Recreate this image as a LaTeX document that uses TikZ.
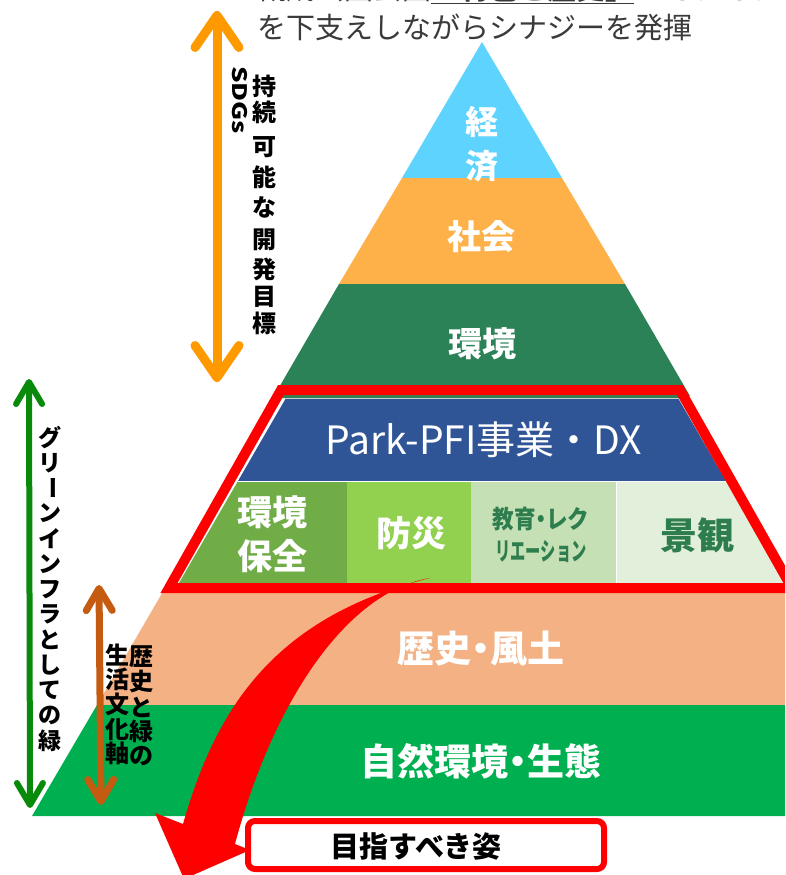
\documentclass[tikz,border=0pt]{standalone}
\usepackage{fontspec}
\usepackage{graphicx}
\usetikzlibrary{arrows.meta}
\setmainfont{Noto Sans CJK JP}
\newfontfamily\jp{Noto Sans CJK JP}
\newcommand{\hdot}{\makebox[0.5em]{・}}
\definecolor{keizai}{HTML}{5DD3FE}
\definecolor{shakai}{HTML}{FEB049}
\definecolor{kankyo}{HTML}{2C8257}
\definecolor{pfiblue}{HTML}{2F5597}
\definecolor{cellA}{HTML}{70AD47}
\definecolor{cellB}{HTML}{92D050}
\definecolor{cellC}{HTML}{C5E0B4}
\definecolor{cellD}{HTML}{E2EFDA}
\definecolor{celltext}{HTML}{2E7D4E}
\definecolor{rekishi}{HTML}{F4B183}
\definecolor{shizen}{HTML}{00B050}
\definecolor{arrOrange}{HTML}{FF9900}
\definecolor{arrGreen}{HTML}{0A8A0A}
\definecolor{arrBrown}{HTML}{C55A11}
\definecolor{toptext}{HTML}{3A3A3A}
\begin{document}
\begin{tikzpicture}[x=1pt,y=-1pt,
  wlbl/.style={text=white,inner sep=0pt,font={\jp\bfseries\fontsize{34}{34}\selectfont}},
  glbl/.style={text=celltext,inner sep=0pt,font={\jp\bfseries\fontsize{36}{36}\selectfont}},
  vchar/.style={text=black,inner sep=0pt,font={\jp\bfseries\fontsize{23}{23}\selectfont}},
  toptxt/.style={anchor=west,inner sep=0pt,text=toptext,font={\jp\fontsize{29}{29}\selectfont}},
  orangearr/.style={draw=arrOrange,line width=9pt,line cap=round,{Straight Barb[length=32pt,width=44pt,round]}-{Straight Barb[length=32pt,width=44pt,round]}},
  greenarr/.style={draw=arrGreen,line width=6pt,line cap=round,{Straight Barb[length=22pt,width=26pt,round]}-{Straight Barb[length=22pt,width=26pt,round]}},
  brownarr/.style={draw=arrBrown,line width=7pt,line cap=round,{Straight Barb[length=22pt,width=26pt,round]}-{Straight Barb[length=22pt,width=26pt,round]}},
  sepline/.style={draw=white,line width=0.9pt}
]
\useasboundingbox (0,0) rectangle (785,875);
\clip (0,0) rectangle (785,875);
\fill[white] (0,0) rectangle (785,875);

% top text (first line cut off by the page edge)
\node[toptxt] (top1) at (257,-11) {概成公園会園\textbf{\underline{「特色と歴史」}}がそれぞれ};
\node[toptxt] (top2) at (257,27) {を下支えしながらシナジーを発揮};

% upper pyramid
\fill[keizai] (482,42) -- (562,178) -- (402,178) -- cycle;
\fill[shakai] (402,178) -- (562,178) -- (625,284) -- (339,284) -- cycle;
\fill[kankyo] (339,284) -- (625,284) -- (690,396) -- (274,396) -- cycle;

% lower bands
\fill[rekishi] (168,583) -- (97,705) -- (800,705) -- (800,583) -- cycle;
\fill[shizen] (97,705) -- (32,816) -- (800,816) -- (800,705) -- cycle;

% red framed part
\fill[white] (281,390) -- (680,390) -- (792,588) -- (169,588) -- cycle;
\fill[kankyo] (283,393) -- (681,393) -- (684,398) -- (280,398) -- cycle;
\fill[pfiblue] (286,398) -- (678,398) -- (726,481) -- (238,481) -- cycle;
\draw[line width=0.8pt,color=gray!40!white] (286,398.6) -- (678,398.6);
\fill[cellA] (238,481) -- (347,481) -- (347,583) -- (179,583) -- cycle;
\fill[cellB] (347,481) -- (471,481) -- (471,583) -- (347,583) -- cycle;
\fill[cellC] (471,481) -- (616,481) -- (616,583) -- (471,583) -- cycle;
\fill[cellD] (616,481) -- (726,481) -- (785,583) -- (616,583) -- cycle;
\draw[sepline] (238,481) -- (726,481);
\draw[sepline] (616,481) -- (616,583);
\draw[red,line width=10pt,line join=miter] (281,390) -- (680,390) -- (792,588) -- (169,588) -- cycle;

% pyramid labels
\node[wlbl,font={\jp\bfseries\fontsize{33}{33}\selectfont}] (kei) at (482,122) {経};
\node[wlbl,font={\jp\bfseries\fontsize{33}{33}\selectfont}] (zai) at (482,166) {済};
\node[wlbl] (sha) at (481,237) {社会};
\node[wlbl] (kan) at (482,344) {環境};
\node[text=white,inner sep=0pt,font={\jp\fontsize{39}{39}\selectfont}] (pfi) at (484,440) {Park-PFI事業・DX};
\node[wlbl,font={\jp\bfseries\fontsize{35}{35}\selectfont}] (kh1) at (272,512) {環境};
\node[wlbl,font={\jp\bfseries\fontsize{35}{35}\selectfont}] (kh2) at (272,556) {保全};
\node[wlbl,font={\jp\bfseries\fontsize{35}{35}\selectfont}] (bou) at (411,533) {防災};
\node[text=celltext,inner sep=0pt,font={\jp\bfseries\fontsize{25}{25}\selectfont}] (kyo1) at (541,519) {\scalebox{0.86}[1]{教育\hdot レク}};
\node[text=celltext,inner sep=0pt,font={\jp\bfseries\fontsize{25}{25}\selectfont}] (kyo2) at (541,551) {\scalebox{0.61}[1]{リエーション}};
\node[glbl,font={\jp\bfseries\fontsize{37}{37}\selectfont}] (kei2) at (697,535) {景観};
\node[wlbl,font={\jp\bfseries\fontsize{37}{37}\selectfont}] (reki) at (481,649) {歴史\hdot 風土};
\node[wlbl,font={\jp\bfseries\fontsize{37}{37}\selectfont}] (shi) at (481,761) {自然環境\hdot 生態};

% vertical texts
\foreach \ch/\yy [count=\i] in {持/86,続/112,可/147,能/177,な/207,開/240,発/269,目/297,標/323}
  \node[vchar,font={\jp\bfseries\fontsize{24}{24}\selectfont}] (sd\i) at (264,\yy) {\ch};
\node[rotate=-90,inner sep=0pt,font={\jp\bfseries\fontsize{20}{20}\selectfont}] (sdgs) at (240,100) {\scalebox{1.3}[1]{SDGs}};

\foreach \ch/\i in {グ/0,リ/1,ン/3,イ/4,ン/5,フ/6,ラ/7,と/8,し/9,て/10,の/11,緑/12}
  \node[vchar] (gi\i) at (50,{438+25.2*\i}) {\ch};
\node[vchar,rotate=-90] (gi2) at (50,488.4) {ー};

\foreach \ch/\yy [count=\i] in {歴/657,史/682,と/707,緑/731,の/756}
  \node[vchar,font={\jp\bfseries\fontsize{24}{24}\selectfont}] (rk\i) at (141,\yy) {\ch};
\foreach \ch/\yy [count=\i] in {生/655,活/679,文/704,化/729,軸/753}
  \node[vchar,font={\jp\bfseries\fontsize{24}{24}\selectfont}] (sk\i) at (117,\yy) {\ch};

% double arrows
\coordinate (oT) at (217,11);
\coordinate (oB) at (217,382);
\coordinate (gT) at (29,379);
\coordinate (gB) at (30,808);
\coordinate (bT) at (99,585);
\coordinate (bB) at (101,805);
\draw[orangearr] (oT) -- (oB);
\draw[greenarr] (gT) -- (gB);
\draw[brownarr] (bT) -- (bB);

% red curved arrow
\fill[red] (430,578) .. controls (345,592) and (272,705) .. (235,844) -- (250,850) -- (184,879) -- (155,813) -- (183,824) .. controls (214,716) and (268,618) .. (430,578) -- cycle;

% goal box
\node[draw=red,line width=6pt,rounded corners=7pt,fill=white,minimum width=356pt,minimum height=48pt,inner sep=0pt] (box) at (426,845) {};
\node[inner sep=0pt,font={\jp\bfseries\fontsize{29}{29}\selectfont}] (goal) at (416,846) {目指すべき姿};
\end{tikzpicture}
\end{document}
